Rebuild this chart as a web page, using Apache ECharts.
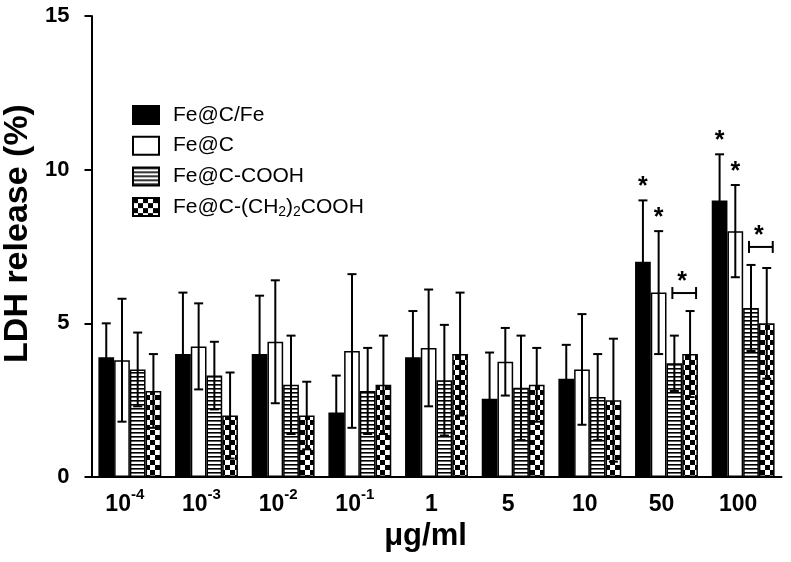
<!DOCTYPE html>
<html><head><meta charset="utf-8">
<script src="https://cdn.jsdelivr.net/npm/echarts@6/dist/echarts.min.js"></script>
<style>html,body{margin:0;padding:0;background:#fff}#c{width:791px;height:562px}</style>
</head><body><div id="c"></div>
<script>
// ---- data ----
const categories = ['10^-4','10^-3','10^-2','10^-1','1','5','10','50','100'];
const seriesNames = ['Fe@C/Fe','Fe@C','Fe@C-COOH','Fe@C-(CH2)2COOH'];
const feCFe      = [3.9, 4.0, 4.0, 2.1, 3.9, 2.55, 3.2, 7.0, 9.0];
const feCFeErr   = [1.1, 2.0, 1.9, 1.2, 1.5, 1.5, 1.1, 2.0, 1.5];
const feC        = [3.8, 4.25, 4.4, 4.1, 4.2, 3.75, 3.5, 6.0, 8.0];
const feCErr     = [2.0, 1.4, 2.0, 2.5, 1.9, 1.1, 1.8, 2.0, 1.5];
const feCCOOH    = [3.5, 3.3, 3.0, 2.8, 3.15, 2.9, 2.6, 3.7, 5.5];
const feCCOOHErr = [1.2, 1.1, 1.6, 1.4, 1.8, 1.7, 1.4, 0.9, 1.4];
const feCCH2     = [2.8, 2.0, 2.0, 3.0, 4.0, 3.0, 2.5, 4.0, 5.0];
const feCCH2Err  = [1.2, 1.4, 1.1, 1.6, 2.0, 1.2, 2.0, 1.4, 1.8];
const yMin = 0, yMax = 15, yInterval = 5;
// significance: [category index, series index] and pairs [category index, series a, series b]
const sigSingle = [[7,0],[7,1],[8,0],[8,1]];
const sigPair = [[7,2,3],[8,2,3]];

const means = [feCFe, feC, feCCOOH, feCCH2];
const errs = [feCFeErr, feCErr, feCCOOHErr, feCCH2Err];

const FONT = '"Liberation Sans", Arial, Helvetica, sans-serif';
const CAT_GAP = 0.18;

function stripes(){
  const c = document.createElement('canvas'); c.width = 4; c.height = 4;
  const g = c.getContext('2d'); g.fillStyle = '#fff'; g.fillRect(0,0,4,4);
  g.fillStyle = '#000'; g.fillRect(0,0,4,1.6); return c;
}
function checker(){
  const c = document.createElement('canvas'); c.width = 10; c.height = 10;
  const g = c.getContext('2d'); g.fillStyle = '#fff'; g.fillRect(0,0,10,10);
  g.fillStyle = '#000'; g.fillRect(0,0,5,5); g.fillRect(5,5,5,5); return c;
}
const fills = ['#000', '#fff', {image: stripes(), repeat: 'repeat'}, {image: checker(), repeat: 'repeat'}];

function barX(api, ci, si){
  const c = api.coord([ci, 0]);
  const bw = api.size([1, 0])[0];
  const gw = bw * (1 - CAT_GAP);
  const w = gw / 4;
  return c[0] - gw / 2 + (si + 0.5) * w;
}
function ln(x1,y1,x2,y2){
  return {type:'line', shape:{x1,y1,x2,y2}, style:{stroke:'#000', lineWidth:2}};
}

const series = [];
seriesNames.forEach((n, i) => {
  series.push({
    name: n, type: 'bar', data: means[i],
    barGap: '0%', barCategoryGap: (CAT_GAP*100) + '%',
    itemStyle: {color: fills[i], borderColor: '#000', borderWidth: 1.5},
    emphasis: {disabled: true}, animation: false
  });
});
seriesNames.forEach((n, i) => {
  series.push({
    type: 'custom', silent: true, animation: false, z: 5,
    data: means[i].map((v, k) => [k, v, errs[i][k]]),
    encode: {x: 0, y: 1},
    renderItem: function(params, api){
      const ci = api.value(0), v = api.value(1), e = api.value(2);
      const x = barX(api, ci, i);
      const top = api.coord([ci, v + e])[1];
      const bot = api.coord([ci, v - e])[1];
      const cap = 4.5;
      return {type:'group', children:[ln(x,top,x,bot), ln(x-cap,top,x+cap,top), ln(x-cap,bot,x+cap,bot)]};
    }
  });
});
// single stars
series.push({
  type: 'custom', silent: true, animation: false, z: 6,
  data: sigSingle.map(d => [d[0], means[d[1]][d[0]] + errs[d[1]][d[0]], d[1]]),
  encode: {x: 0, y: 1},
  renderItem: function(params, api){
    const ci = api.value(0), yt = api.value(1), si = api.value(2);
    const x = barX(api, ci, si);
    const y = api.coord([ci, yt])[1];
    return {type:'text', style:{text:'*', x: x, y: y - 13, font:'bold 25px ' + FONT, fill:'#000', align:'center', verticalAlign:'middle'}};
  }
});
// pair brackets
series.push({
  type: 'custom', silent: true, animation: false, z: 6,
  data: sigPair.map(d => [d[0], Math.max(means[d[1]][d[0]] + errs[d[1]][d[0]], means[d[2]][d[0]] + errs[d[2]][d[0]]), d[1], d[2]]),
  encode: {x: 0, y: 1},
  renderItem: function(params, api){
    const ci = api.value(0), yt = api.value(1), a = api.value(2), b = api.value(3);
    const xl = barX(api, ci, a) - 2, xr = barX(api, ci, b) + 6;
    const y = api.coord([ci, yt])[1] - 18;
    return {type:'group', children:[
      ln(xl, y, xr, y), ln(xl, y-6, xl, y+6), ln(xr, y-6, xr, y+6),
      {type:'text', style:{text:'*', x:(xl+xr)/2 - 2, y: y - 11, font:'bold 25px ' + FONT, fill:'#000', align:'center', verticalAlign:'middle'}}
    ]};
  }
});

const chart = echarts.init(document.getElementById('c'), null, {renderer: 'canvas'});
chart.setOption({
  backgroundColor: '#fff',
  animation: false,
  grid: {left: 91.5, right: 9.5, top: 16, bottom: 85, containLabel: false, outerBoundsMode: 'none'},
  legend: {
    data: seriesNames, orient: 'vertical', left: 127, top: 98,
    icon: 'rect', itemWidth: 26, itemHeight: 18, itemGap: 6.7,
    selectedMode: false,
    formatter: n => n.replace(/(H|\))2/g, '$1{sub|2}'),
    textStyle: {fontFamily: FONT, fontSize: 21, color: '#000', lineHeight: 24, padding: [0,0,0,9],
      rich: {sub: {fontFamily: FONT, fontSize: 14, lineHeight: 14, verticalAlign: 'bottom', color: '#000'}}}
  },
  xAxis: {
    type: 'category', data: categories,
    name: 'μg/ml', nameLocation: 'middle', nameGap: 43,
    nameTextStyle: {fontFamily: FONT, fontSize: 31, fontWeight: 'bold', color: '#000', padding: [0,22,0,0]},
    axisLine: {lineStyle: {color: '#000', width: 2}},
    axisTick: {show: false},
    axisLabel: {
      interval: 0, margin: 10, color: '#000', padding: [0,10,0,0],
      formatter: v => { const p = v.split('^'); return p.length > 1 ? '{b|' + p[0] + '}{sup|' + p[1] + '}' : '{b|' + v + '}'; },
      rich: {
        b: {fontFamily: FONT, fontSize: 23, fontWeight: 'bold', lineHeight: 36, color: '#000'},
        sup: {fontFamily: FONT, fontSize: 15, fontWeight: 'bold', lineHeight: 15, verticalAlign: 'top', color: '#000'}
      }
    }
  },
  yAxis: {
    type: 'value', min: yMin, max: yMax, interval: yInterval,
    name: 'LDH release (%)', nameLocation: 'middle', nameGap: 53,
    nameTextStyle: {fontFamily: FONT, fontSize: 34, fontWeight: 'bold', color: '#000', padding: [0,0,0,26]},
    axisLine: {show: true, lineStyle: {color: '#000', width: 2}},
    axisTick: {show: true, length: 7, lineStyle: {color: '#000', width: 2}},
    axisLabel: {fontFamily: FONT, fontSize: 22, fontWeight: 'bold', color: '#000', margin: 22},
    splitLine: {show: false}
  },
  series: series
});
</script></body></html>
